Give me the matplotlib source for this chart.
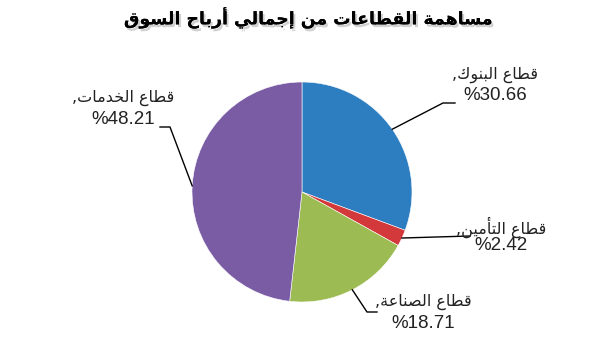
import numpy as np
import matplotlib.pyplot as plt
import matplotlib.patheffects as pe

# chart data
title = 'مساهمة القطاعات من إجمالي أرباح السوق'
sectors = ['قطاع البنوك', 'قطاع التأمين', 'قطاع الصناعة', 'قطاع الخدمات']
shares = [30.66, 2.42, 18.71, 48.21]
colors = ['#2d7dc1', '#d3393b', '#9dbb53', '#7a5ca4']

# arabic presentation forms: isolated, final, initial, medial
FORMS = {
    'ا': (0xFE8D, 0xFE8E, None, None),
    'أ': (0xFE83, 0xFE84, None, None),
    'إ': (0xFE87, 0xFE88, None, None),
    'ب': (0xFE8F, 0xFE90, 0xFE91, 0xFE92),
    'ة': (0xFE93, 0xFE94, None, None),
    'ت': (0xFE95, 0xFE96, 0xFE97, 0xFE98),
    'ج': (0xFE9D, 0xFE9E, 0xFE9F, 0xFEA0),
    'ح': (0xFEA1, 0xFEA2, 0xFEA3, 0xFEA4),
    'خ': (0xFEA5, 0xFEA6, 0xFEA7, 0xFEA8),
    'د': (0xFEA9, 0xFEAA, None, None),
    'ر': (0xFEAD, 0xFEAE, None, None),
    'س': (0xFEB1, 0xFEB2, 0xFEB3, 0xFEB4),
    'ص': (0xFEB9, 0xFEBA, 0xFEBB, 0xFEBC),
    'ط': (0xFEC1, 0xFEC2, 0xFEC3, 0xFEC4),
    'ع': (0xFEC9, 0xFECA, 0xFECB, 0xFECC),
    'ق': (0xFED5, 0xFED6, 0xFED7, 0xFED8),
    'ك': (0xFED9, 0xFEDA, 0xFEDB, 0xFEDC),
    'ل': (0xFEDD, 0xFEDE, 0xFEDF, 0xFEE0),
    'م': (0xFEE1, 0xFEE2, 0xFEE3, 0xFEE4),
    'ن': (0xFEE5, 0xFEE6, 0xFEE7, 0xFEE8),
    'ه': (0xFEE9, 0xFEEA, 0xFEEB, 0xFEEC),
    'و': (0xFEED, 0xFEEE, None, None),
    'ي': (0xFEF1, 0xFEF2, 0xFEF3, 0xFEF4),
}


def rtl(s):
    out = []
    for i, ch in enumerate(s):
        f = FORMS.get(ch)
        if f is None:
            out.append(ch)
            continue
        prev = s[i - 1] if i > 0 else None
        nxt = s[i + 1] if i < len(s) - 1 else None
        jp = prev in FORMS and FORMS[prev][2] is not None
        jn = nxt in FORMS and f[2] is not None
        if jp and jn:
            c = f[3]
        elif jp:
            c = f[1]
        elif jn:
            c = f[2]
        else:
            c = f[0]
        out.append(chr(c))
    return ''.join(out)[::-1]


W, H = 597, 353


def Y(y):
    return H - y


fig = plt.figure(figsize=(W / 100, H / 100), dpi=100)
ax = fig.add_axes([0, 0, 1, 1])

wedges, _ = ax.pie(shares, colors=colors, startangle=90, counterclock=False,
                   center=(302, Y(192)), radius=110,
                   wedgeprops=dict(edgecolor='white', linewidth=0.4))
ax.set_xlim(0, W)
ax.set_ylim(0, H)
ax.set_aspect('equal')
ax.axis('off')

ax.text(309, Y(18), rtl(title), ha='center', va='center', fontsize=12.5,
        fontweight='bold', family='DejaVu Sans',
        path_effects=[pe.withSimplePatchShadow(offset=(1.5, -2),
                                               shadow_rgbFace='#999999', alpha=0.45),
                      pe.Normal()])

# label layout: text centre x, line1 y, line2 y, leader elbow points
label_pos = [(495, 75, 96), (501, 227, 245), (423, 302, 324), (123, 98, 120)]
leaders = [[(443, 103), (455, 103)],
           [(470, 236)],
           [(367, 312), (377, 312)],
           [(170, 127), (160, 127)]]

for w, name, val, (tx, y1, y2), pts in zip(wedges, sectors, shares, label_pos, leaders):
    ang = np.deg2rad((w.theta1 + w.theta2) / 2)
    cx, cy = w.center
    xs = [cx + w.r * np.cos(ang)] + [p[0] for p in pts]
    ys = [cy + w.r * np.sin(ang)] + [Y(p[1]) for p in pts]
    ax.plot(xs, ys, color='black', lw=1.0)
    ax.text(tx, Y(y1), ',' + rtl(name), ha='center', va='center', fontsize=11.5,
            family='DejaVu Sans', color='#222222')
    ax.text(tx, Y(y2), '%' + f'{val:.2f}', ha='center', va='center', fontsize=13.5,
            family='Liberation Sans', color='#222222')

fig.savefig('out.png', dpi=100)
